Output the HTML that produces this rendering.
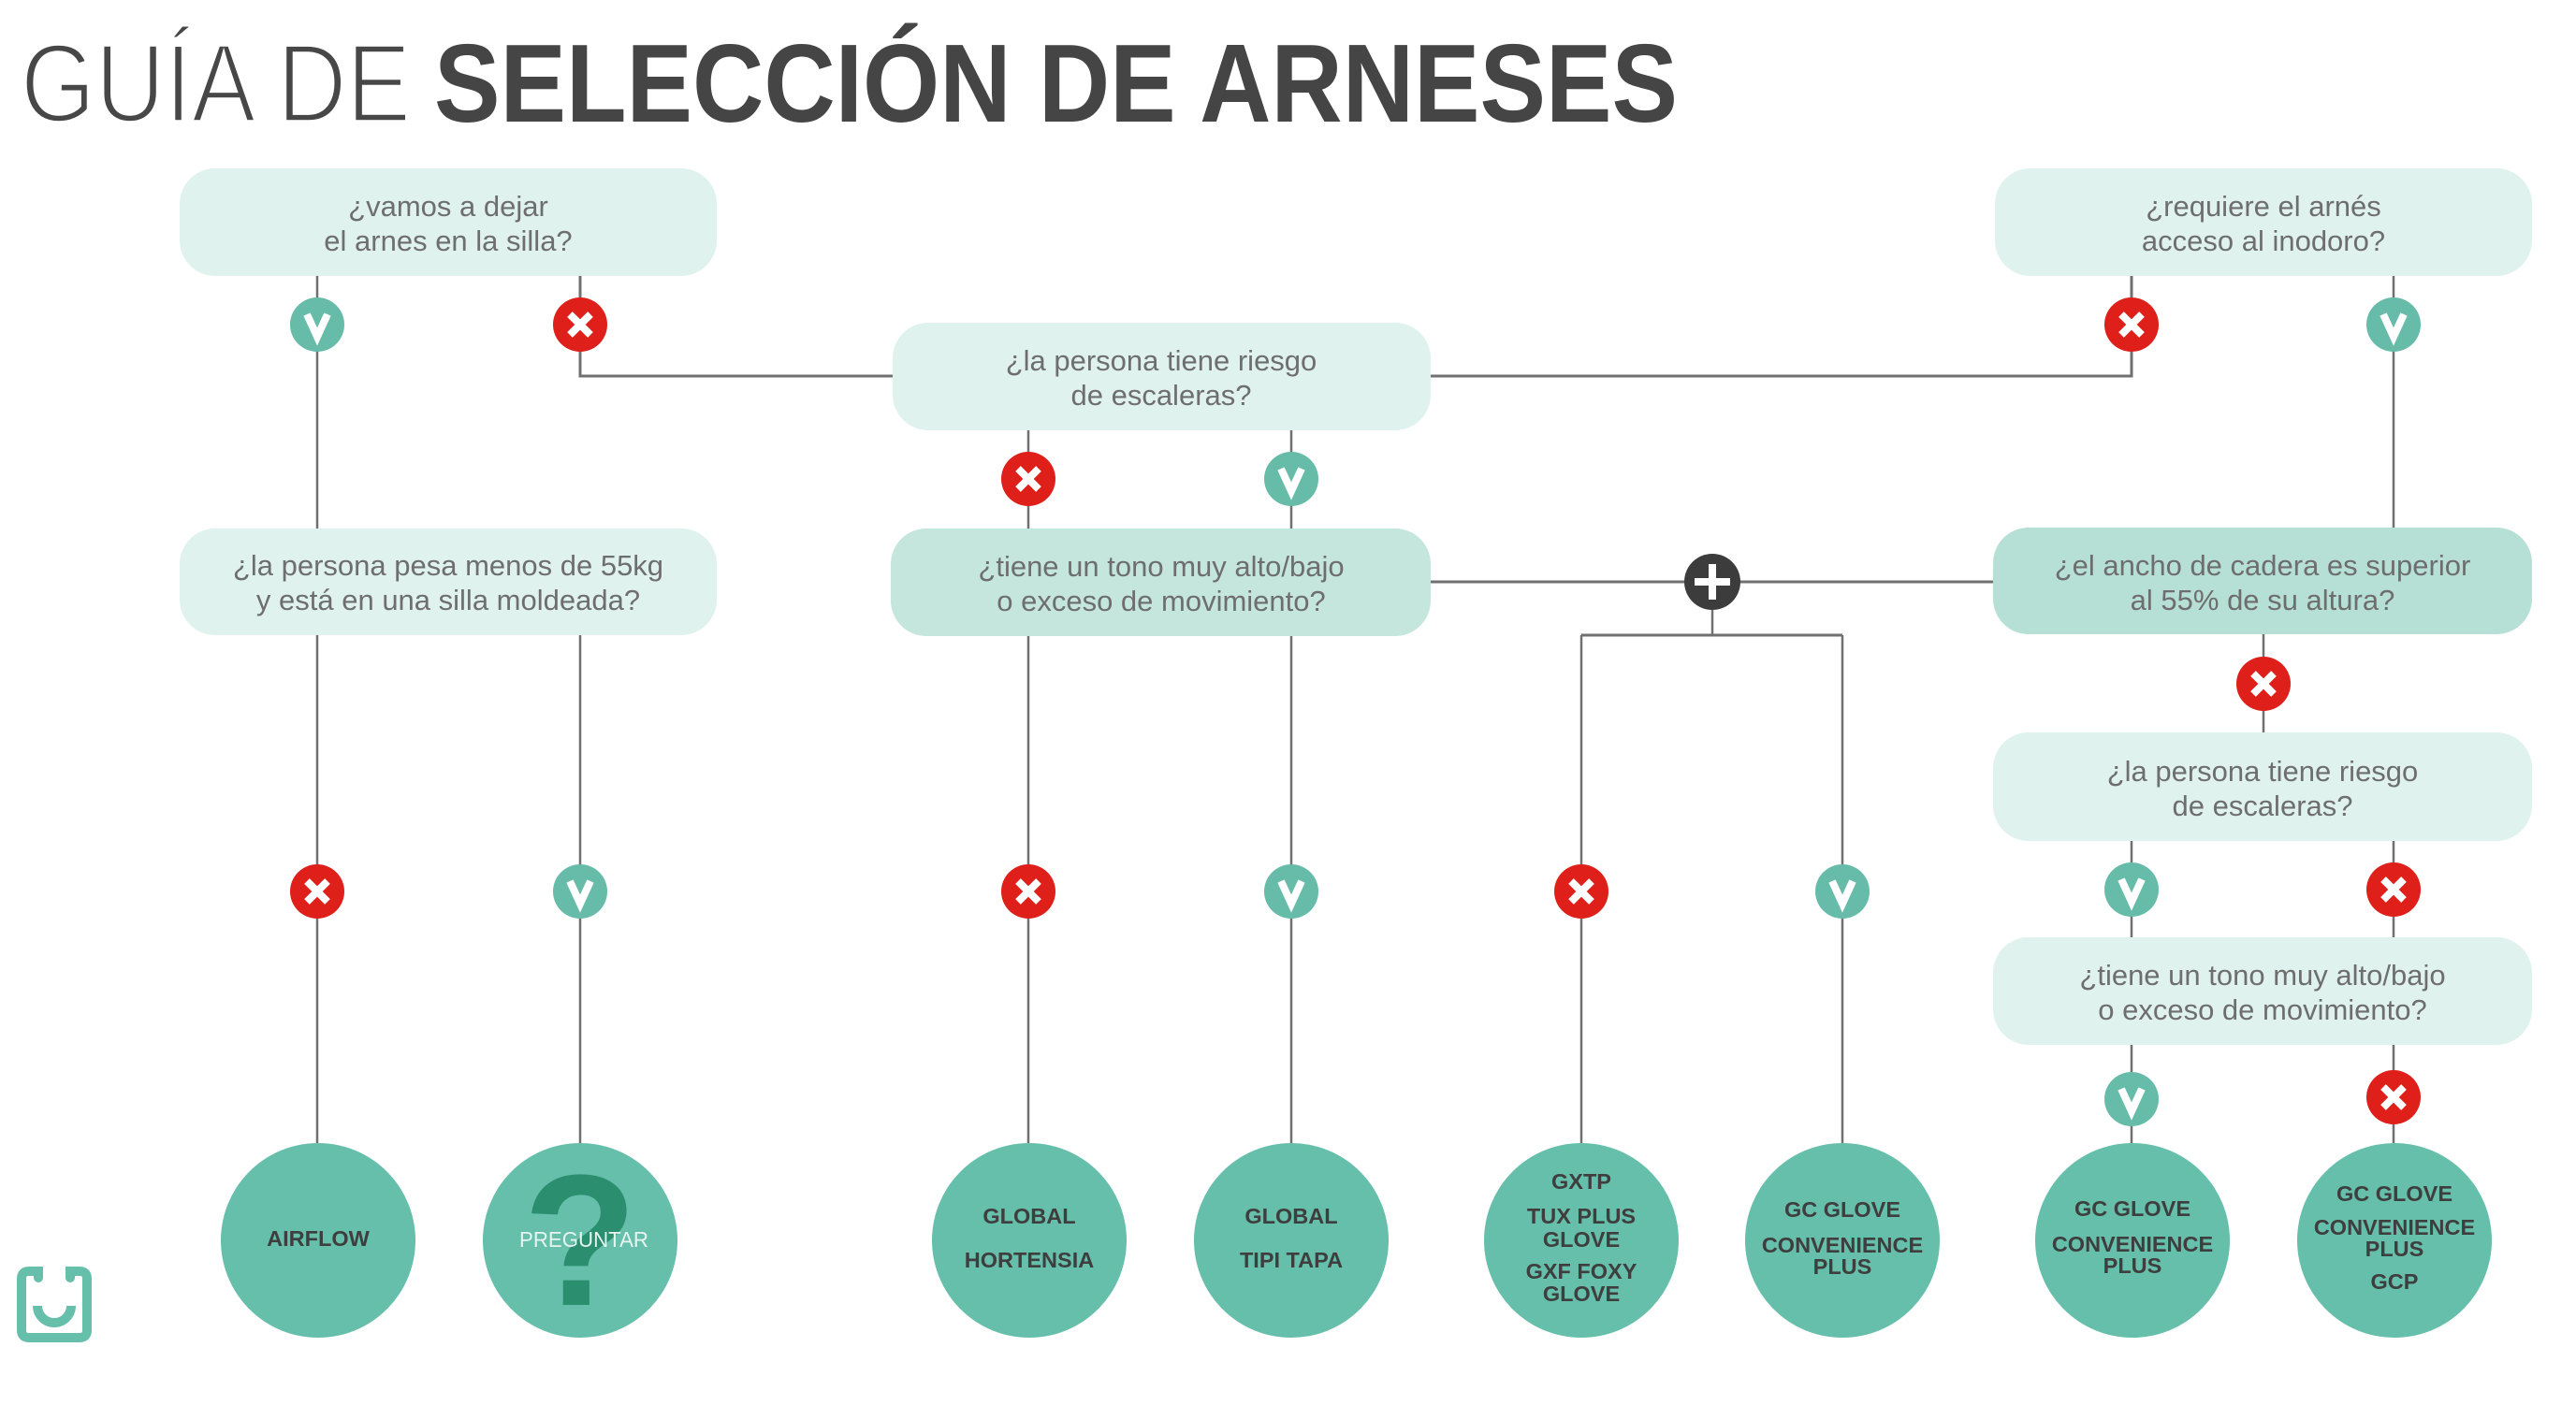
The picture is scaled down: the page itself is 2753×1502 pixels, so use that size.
<!DOCTYPE html>
<html>
<head>
<meta charset="utf-8">
<style>
html,body{margin:0;padding:0;background:#fff;}
svg{display:block;}
.q{font-family:"Liberation Sans",sans-serif;font-size:31px;fill:#6e6e6e;text-anchor:middle;}
.c{font-family:"Liberation Sans",sans-serif;font-size:23.5px;font-weight:bold;fill:#3e3e3e;text-anchor:middle;}
</style>
</head>
<body>
<svg width="2753" height="1502" viewBox="0 0 2753 1502" xmlns="http://www.w3.org/2000/svg">
<rect x="0" y="0" width="2753" height="1502" fill="#ffffff"/>

<!-- Title -->
<text x="22" y="130" font-family="Liberation Sans, sans-serif" font-size="119" fill="#474747" stroke="#ffffff" stroke-width="3.5" textLength="417" lengthAdjust="spacingAndGlyphs">GUÍA DE</text>
<text x="464" y="130" font-family="Liberation Sans, sans-serif" font-size="119" font-weight="bold" fill="#454545" textLength="1329" lengthAdjust="spacingAndGlyphs">SELECCIÓN DE ARNESES</text>

<!-- Connector lines -->
<g stroke="#707070" stroke-width="2.5" fill="none">
  <line x1="339" y1="295" x2="339" y2="565"/>
  <polyline points="620,295 620,402 954,402" stroke-width="3"/>
  <polyline points="1529,402 2278,402 2278,295" stroke-width="3"/>
  <line x1="2558" y1="295" x2="2558" y2="564"/>
  <line x1="339" y1="679" x2="339" y2="1222"/>
  <line x1="620" y1="679" x2="620" y2="1222"/>
  <line x1="1099" y1="460" x2="1099" y2="565"/>
  <line x1="1380" y1="460" x2="1380" y2="565"/>
  <line x1="1099" y1="680" x2="1099" y2="1222"/>
  <line x1="1380" y1="680" x2="1380" y2="1222"/>
  <line x1="1529" y1="622" x2="2130" y2="622" stroke-width="3"/>
  <line x1="1830" y1="622" x2="1830" y2="679"/>
  <line x1="1690" y1="679" x2="1969" y2="679" stroke-width="3"/>
  <line x1="1690" y1="679" x2="1690" y2="1222"/>
  <line x1="1969" y1="679" x2="1969" y2="1222"/>
  <line x1="2419" y1="678" x2="2419" y2="783"/>
  <line x1="2278" y1="899" x2="2278" y2="1002"/>
  <line x1="2558" y1="899" x2="2558" y2="1002"/>
  <line x1="2278" y1="1117" x2="2278" y2="1222"/>
  <line x1="2558" y1="1117" x2="2558" y2="1222"/>
</g>

<!-- Question boxes -->
<rect x="192" y="180" width="574" height="115" rx="38" fill="#dff2ed"/>
<text class="q" x="479" y="231">¿vamos a dejar</text>
<text class="q" x="479" y="268">el arnes en la silla?</text>

<rect x="2132" y="180" width="574" height="115" rx="38" fill="#dff2ed"/>
<text class="q" x="2419" y="231">¿requiere el arnés</text>
<text class="q" x="2419" y="268">acceso al inodoro?</text>

<rect x="954" y="345" width="575" height="115" rx="38" fill="#dff2ed"/>
<text class="q" x="1241" y="396">¿la persona tiene riesgo</text>
<text class="q" x="1241" y="433">de escaleras?</text>

<rect x="192" y="565" width="574" height="114" rx="38" fill="#dff2ed"/>
<text class="q" x="479" y="615">¿la persona pesa menos de 55kg</text>
<text class="q" x="479" y="652">y está en una silla moldeada?</text>

<rect x="952" y="565" width="577" height="115" rx="38" fill="#c4e6dd"/>
<text class="q" x="1241" y="616">¿tiene un tono muy alto/bajo</text>
<text class="q" x="1241" y="653">o exceso de movimiento?</text>

<rect x="2130" y="564" width="576" height="114" rx="38" fill="#b6dfd5"/>
<text class="q" x="2418" y="615">¿el ancho de cadera es superior</text>
<text class="q" x="2418" y="652">al 55% de su altura?</text>

<rect x="2130" y="783" width="576" height="116" rx="38" fill="#dff2ed"/>
<text class="q" x="2418" y="835">¿la persona tiene riesgo</text>
<text class="q" x="2418" y="872">de escaleras?</text>

<rect x="2130" y="1002" width="576" height="115" rx="38" fill="#dff2ed"/>
<text class="q" x="2418" y="1053">¿tiene un tono muy alto/bajo</text>
<text class="q" x="2418" y="1090">o exceso de movimiento?</text>

<!-- Check icons -->
<g fill="#66bca8">
  <circle cx="339" cy="347" r="29"/>
  <circle cx="2558" cy="347" r="29"/>
  <circle cx="1380" cy="512" r="29"/>
  <circle cx="620" cy="953" r="29"/>
  <circle cx="1380" cy="953" r="29"/>
  <circle cx="1969" cy="953" r="29"/>
  <circle cx="2278" cy="951" r="29"/>
  <circle cx="2278" cy="1175" r="29"/>
</g>
<g stroke="#ffffff" stroke-width="8" fill="none" stroke-linejoin="miter" stroke-miterlimit="3">
  <polyline points="328,336 339,360 350,336"/>
  <polyline points="2547,336 2558,360 2569,336"/>
  <polyline points="1369,501 1380,525 1391,501"/>
  <polyline points="609,942 620,966 631,942"/>
  <polyline points="1369,942 1380,966 1391,942"/>
  <polyline points="1958,942 1969,966 1980,942"/>
  <polyline points="2267,940 2278,964 2289,940"/>
  <polyline points="2267,1164 2278,1188 2289,1164"/>
</g>

<!-- X icons -->
<g fill="#df1f1a">
  <circle cx="620" cy="347" r="29"/>
  <circle cx="2278" cy="347" r="29"/>
  <circle cx="1099" cy="512" r="29"/>
  <circle cx="339" cy="953" r="29"/>
  <circle cx="1099" cy="953" r="29"/>
  <circle cx="1690" cy="953" r="29"/>
  <circle cx="2419" cy="731" r="29"/>
  <circle cx="2558" cy="951" r="29"/>
  <circle cx="2558" cy="1173" r="29"/>
</g>
<g stroke="#ffffff" stroke-width="8" fill="none">
  <path d="M609,336 L631,358 M631,336 L609,358"/>
  <path d="M2267,336 L2289,358 M2289,336 L2267,358"/>
  <path d="M1088,501 L1110,523 M1110,501 L1088,523"/>
  <path d="M328,942 L350,964 M350,942 L328,964"/>
  <path d="M1088,942 L1110,964 M1110,942 L1088,964"/>
  <path d="M1679,942 L1701,964 M1701,942 L1679,964"/>
  <path d="M2408,720 L2430,742 M2430,720 L2408,742"/>
  <path d="M2547,940 L2569,962 M2569,940 L2547,962"/>
  <path d="M2547,1162 L2569,1184 M2569,1162 L2547,1184"/>
</g>

<!-- Plus icon -->
<circle cx="1830" cy="622" r="30" fill="#3c3c3c"/>
<path d="M1811,622 L1849,622 M1830,603 L1830,641" stroke="#ffffff" stroke-width="8" fill="none"/>

<!-- Result circles -->
<g fill="#66bfaa">
  <circle cx="340" cy="1326" r="104"/>
  <circle cx="620" cy="1326" r="104"/>
  <circle cx="1100" cy="1326" r="104"/>
  <circle cx="1380" cy="1326" r="104"/>
  <circle cx="1690" cy="1326" r="104"/>
  <circle cx="1969" cy="1326" r="104"/>
  <circle cx="2279" cy="1326" r="104"/>
  <circle cx="2559" cy="1326" r="104"/>
</g>

<text class="c" x="340" y="1332">AIRFLOW</text>

<text x="620" y="1395" font-family="Liberation Sans, sans-serif" font-size="200" font-weight="bold" fill="#2b8f6f" text-anchor="middle">?</text>
<text x="624" y="1333" font-family="Liberation Sans, sans-serif" font-size="23" fill="#e6f4ef" text-anchor="middle" textLength="138" lengthAdjust="spacingAndGlyphs">PREGUNTAR</text>

<text class="c" x="1100" y="1308">GLOBAL</text>
<text class="c" x="1100" y="1355">HORTENSIA</text>

<text class="c" x="1380" y="1308">GLOBAL</text>
<text class="c" x="1380" y="1355">TIPI TAPA</text>

<text class="c" x="1690" y="1271">GXTP</text>
<text class="c" x="1690" y="1308">TUX PLUS</text>
<text class="c" x="1690" y="1333">GLOVE</text>
<text class="c" x="1690" y="1367">GXF FOXY</text>
<text class="c" x="1690" y="1391">GLOVE</text>

<text class="c" x="1969" y="1301">GC GLOVE</text>
<text class="c" x="1969" y="1339">CONVENIENCE</text>
<text class="c" x="1969" y="1362">PLUS</text>

<text class="c" x="2279" y="1300">GC GLOVE</text>
<text class="c" x="2279" y="1338">CONVENIENCE</text>
<text class="c" x="2279" y="1361">PLUS</text>

<text class="c" x="2559" y="1284">GC GLOVE</text>
<text class="c" x="2559" y="1320">CONVENIENCE</text>
<text class="c" x="2559" y="1343">PLUS</text>
<text class="c" x="2559" y="1378">GCP</text>

<!-- Logo -->
<g stroke="#66bfaa" stroke-width="10" fill="none" stroke-linecap="round">
  <path d="M41,1366 L41,1359 L31,1359 Q23,1359 23,1367 L23,1422 Q23,1430 31,1430 L85,1430 Q93,1430 93,1422 L93,1367 Q93,1359 85,1359 L75,1359 L75,1366"/>
  <path d="M40,1396 A18,18 0 0 0 76,1396" stroke-linecap="butt"/>
</g>
</svg>
</body>
</html>
